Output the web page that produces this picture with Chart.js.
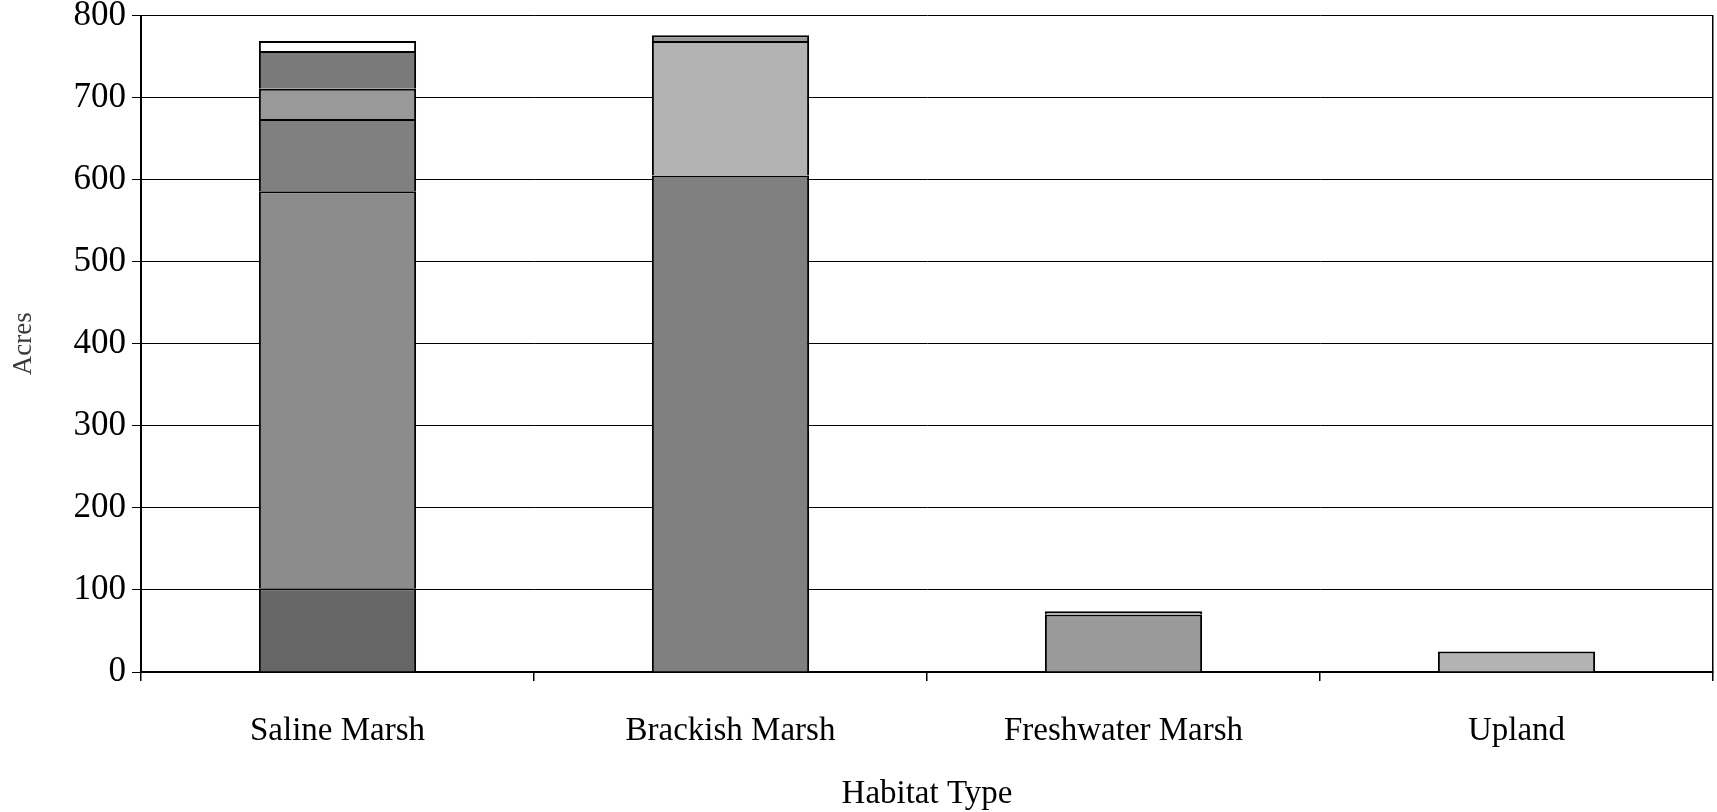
<!DOCTYPE html>
<html>
<head>
<meta charset="utf-8">
<script src="https://cdn.jsdelivr.net/npm/chart.js@4.4.1/dist/chart.umd.min.js"></script>
<style>
  html, body { margin: 0; padding: 0; background: #fff; }
  #wrap { width: 1717px; height: 812px; }
</style>
</head>
<body>
<div id="wrap"><canvas id="acres"></canvas></div>
<script>
// habitat categories
var habitats = ['Saline Marsh', 'Brackish Marsh', 'Freshwater Marsh', 'Upland'];

// stacked segments, bottom to top (acres)
var layer1 = [102, 605, 70, 25];
var layer2 = [484, 164, 4, null];
var layer3 = [88, 7, null, null];
var layer4 = [37, null, null, null];
var layer5 = [46, null, null, null];
var layer6 = [12, null, null, null];

var yTicks = [0, 100, 200, 300, 400, 500, 600, 700, 800];

var layerColors = [
    ['#666666', '#808080', '#9a9a9a', '#b3b3b3'],
    ['#8c8c8c', '#b3b3b3', '#b3b3b3', '#b3b3b3'],
    ['#808080', '#999999', '#999999', '#999999'],
    ['#999999', '#999999', '#999999', '#999999'],
    ['#7a7a7a', '#7a7a7a', '#7a7a7a', '#7a7a7a'],
    ['#ffffff', '#ffffff', '#ffffff', '#ffffff']
];

var layers = [layer1, layer2, layer3, layer4, layer5, layer6];
var datasets = [];
for (var i = 0; i < layers.length; i++) {
    datasets.push({
        label: 'Layer ' + (i + 1),
        data: layers[i],
        backgroundColor: layerColors[i],
        borderColor: '#000000',
        borderWidth: 2,
        categoryPercentage: 1.0,
        barPercentage: 0.4
    });
}

var serif = '"Liberation Serif", "Times New Roman", serif';

var ctx = document.getElementById('acres').getContext('2d');
var myChart = new Chart(ctx, {
    type: 'bar',
    data: {
        labels: habitats,
        datasets: datasets
    },
    options: {
        responsive: true,
        maintainAspectRatio: false,
        animation: false,
        layout: { padding: { top: 0, right: 4, left: 8, bottom: 4 } },
        plugins: {
            legend: { display: false },
            tooltip: { enabled: false }
        },
        scales: {
            x: {
                stacked: true,
                afterFit: function (axis) { axis.height = 136; },
                grid: {
                    offset: true,
                    drawOnChartArea: false,
                    color: '#000000',
                    tickLength: 9,
                    lineWidth: 1.5
                },
                border: { color: '#000000', width: 2 },
                ticks: {
                    color: '#000000',
                    font: { family: serif, size: 33 },
                    padding: 31
                },
                title: {
                    display: true,
                    text: 'Habitat Type',
                    color: '#000000',
                    font: { family: serif, size: 33, lineHeight: 0.8 },
                    padding: { top: 0, bottom: 0 }
                }
            },
            y: {
                stacked: true,
                min: 0,
                max: 800,
                afterBuildTicks: function (axis) {
                    axis.ticks = yTicks.map(function (v) { return { value: v }; });
                },
                afterFit: function (axis) { axis.width = 133; },
                grid: {
                    color: '#000000',
                    lineWidth: 1,
                    tickLength: 9
                },
                border: { color: '#000000', width: 2 },
                ticks: {
                    color: '#000000',
                    font: { family: serif, size: 35, lineHeight: 0.55 },
                    padding: 6
                },
                title: {
                    display: true,
                    text: 'Acres',
                    color: '#3a3a3a',
                    font: { family: serif, size: 27 },
                    padding: { top: 0, bottom: 0 }
                }
            },
            yRight: {
                position: 'right',
                min: 0,
                max: 800,
                grid: { drawOnChartArea: false, drawTicks: false },
                border: { color: '#000000', width: 1.5 },
                ticks: { display: false }
            }
        }
    }
});
</script>
</body>
</html>
